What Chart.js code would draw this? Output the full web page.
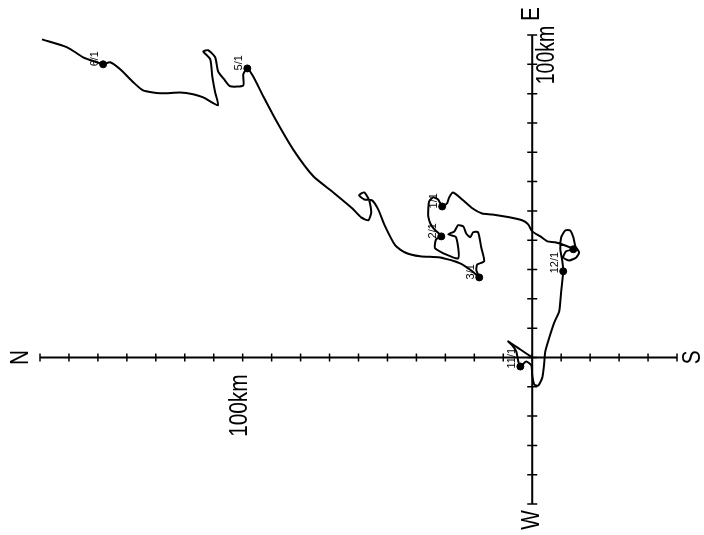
<!DOCTYPE html>
<html>
<head>
<meta charset="utf-8">
<script src="https://cdn.jsdelivr.net/npm/chart.js@4.4.0/dist/chart.umd.min.js"></script>
<style>
  body { margin: 0; background: #fff; }
  canvas { display: block; }
</style>
</head>
<body>
<canvas id="trackChart" width="704" height="535"></canvas>
<script>
// track, km from the release point (north +, east +)
const northKm = [0, 4.1, 8.3, 6.9, 5.5, 4.8, 4.1, 2.1, 0.3, 0, -0.7, -2.1, -3.5, -4.1, -4.5, -5.9, -7.6, -9.3, -9.7, -10.0,
  -10.7, -10.4, -9.7, -10.0, -11.4, -13.1, -14.2, -14.9, -16.2, -15.2, -12.8, -10.7, -11.7, -14.2, -11.4, -7.9, -5.2, -2.8, 0, 1.4,
  3.5, 7.9, 13.8, 17.3, 20.7, 24.2, 27.3, 28.7, 29.4, 31.1, 32.5, 34.2, 35.6, 35.9, 35.9, 35.2, 33.8, 31.4, 33.2, 33.5,
  25.6, 26.3, 29.0, 26.9, 25.6, 23.8, 22.8, 21.4, 20.4, 18.7, 17.6, 16.6, 19.0, 19.3, 18.3, 20.7, 24.9, 31.8, 38.7, 43.9,
  47.3, 50.8, 53.2, 55.3, 58.0, 59.8, 58.0, 56.3, 55.6, 56.6, 59.1, 62.2, 68.7, 75.6, 82.6, 88.1, 92.9, 96.4, 98.4, 99.8,
  99.8, 104.3, 106.5, 108.5, 109.5, 111.9, 113.6, 111.2, 110.5, 109.5, 108.5, 113.6, 117.1, 121.6, 128.5, 134.4, 137.8, 142.3, 145.8, 148.2,
  150.3, 155.1, 160.6, 169.3];
const eastKm = [0, 2.7, 5.5, 4.1, 2.0, -1.4, -3.1, -1.4, -2.7, -6.1, -9.2, -9.6, -6.8, -2.4, 2.0, 6.8, 11.9, 15.7, 19.1, 22.5,
  29.4, 32.8, 36.9, 41.0, 43.3, 43.3, 41.0, 37.9, 35.8, 34.1, 33.1, 34.1, 36.2, 36.9, 38.2, 39.3, 39.6, 41.3, 43.0, 45.4,
  46.8, 47.8, 48.8, 49.1, 50.9, 53.9, 56.3, 54.6, 52.6, 51.5, 53.9, 54.6, 53.2, 50.5, 48.1, 45.7, 43.7, 41.3, 40.3, 37.2,
  33.8, 41.0, 42.0, 43.0, 45.1, 44.7, 42.3, 41.0, 42.7, 42.7, 37.5, 32.8, 31.7, 29.7, 27.3, 29.4, 32.1, 34.1, 34.5, 35.8,
  38.2, 44.7, 50.5, 53.6, 53.9, 55.3, 56.3, 53.6, 49.5, 46.8, 47.8, 50.9, 56.3, 61.8, 71.0, 80.2, 89.1, 95.9, 98.6, 96.6,
  92.8, 92.5, 95.0, 97.6, 102.4, 104.8, 104.4, 101.7, 95.9, 90.4, 86.0, 88.7, 89.8, 90.4, 90.1, 91.1, 93.9, 98.3, 100.7, 100.0,
  100.7, 102.4, 105.8, 108.5];

// dated fixes on the track (index into the arrays above)
const markerIdx = [6, 20, 33, 49, 57, 74, 98, 119];
const markerLabels = ['11/1', '12/1', '', '1/1', '2/1', '3/1', '5/1', '6/1'];

// axis extent and tick step, km
const northRange = [-50, 170];
const eastRange = [-50, 110];
const tickStep = 10;
const scaleLabel = '100km';
const scaleAt = 100;

const track = northKm.map((n, i) => ({ x: n, y: eastKm[i] }));
const markers = markerIdx.map(i => ({ x: northKm[i], y: eastKm[i] }));

function rotText(ctx, txt, x, y, size, align, sx) {
    ctx.save();
    ctx.translate(x, y);
    ctx.rotate(-Math.PI / 2);
    ctx.scale(sx, 1);
    ctx.font = size + 'px "Liberation Sans", Arial, sans-serif';
    ctx.textAlign = align;
    ctx.textBaseline = 'alphabetic';
    ctx.fillStyle = '#000';
    ctx.fillText(txt, 0, 0);
    ctx.restore();
}

// compass axes crossing at the release point, drawn from the chart scales
const compassAxes = {
    id: 'compassAxes',
    beforeDatasetsDraw(chart) {
        const ctx = chart.ctx;
        const xs = chart.scales.x, ys = chart.scales.y;
        const x0 = xs.getPixelForValue(0), y0 = ys.getPixelForValue(0);
        const xl = xs.getPixelForValue(northRange[1]), xr = xs.getPixelForValue(northRange[0]);
        const yt = ys.getPixelForValue(eastRange[1]), yb = ys.getPixelForValue(eastRange[0]);
        ctx.save();
        ctx.strokeStyle = '#000';
        ctx.lineWidth = 2;
        ctx.beginPath();
        ctx.moveTo(xl, y0); ctx.lineTo(xr, y0);
        ctx.moveTo(x0, yt); ctx.lineTo(x0, yb);
        ctx.stroke();
        ctx.lineWidth = 1.5;
        ctx.beginPath();
        for (let v = northRange[0]; v <= northRange[1]; v += tickStep) {
            const p = xs.getPixelForValue(v);
            ctx.moveTo(p, y0 - 4); ctx.lineTo(p, y0 + 4);
        }
        for (let v = eastRange[0]; v <= eastRange[1]; v += tickStep) {
            const p = ys.getPixelForValue(v);
            ctx.moveTo(x0 - 5, p); ctx.lineTo(x0 + 5, p);
        }
        ctx.stroke();
        ctx.restore();

        rotText(ctx, 'N', xl - 12, y0, 26, 'center', 0.8);
        rotText(ctx, 'S', xr + 23, y0, 26, 'center', 0.8);
        rotText(ctx, 'E', x0 + 7, yt - 21, 26, 'center', 0.8);
        rotText(ctx, 'W', x0 + 7, yb + 16, 26, 'center', 0.8);
        rotText(ctx, scaleLabel, xs.getPixelForValue(scaleAt) + 4, y0 + 17, 26, 'right', 0.8);
        rotText(ctx, scaleLabel, x0 + 22, ys.getPixelForValue(scaleAt) + 20, 26, 'left', 0.75);
    },
    afterDatasetsDraw(chart) {
        const ctx = chart.ctx;
        const xs = chart.scales.x, ys = chart.scales.y;
        markers.forEach((m, i) => {
            if (!markerLabels[i]) return;
            rotText(ctx, markerLabels[i], xs.getPixelForValue(m.x) - 5, ys.getPixelForValue(m.y) + 2, 11, 'left', 1);
        });
    }
};

new Chart(document.getElementById('trackChart').getContext('2d'), {
    type: 'scatter',
    data: {
        datasets: [{
            data: track,
            showLine: true,
            borderColor: '#000',
            borderWidth: 2,
            pointRadius: 0,
            tension: 0.2
        }, {
            data: markers,
            pointRadius: 3.5,
            backgroundColor: '#000',
            borderColor: '#000'
        }]
    },
    options: {
        responsive: false,
        animation: false,
        layout: { padding: { left: 40, right: 27, top: 35, bottom: 31 } },
        plugins: { legend: { display: false }, tooltip: { enabled: false } },
        scales: {
            x: { type: 'linear', min: northRange[0], max: northRange[1], reverse: true, display: false },
            y: { type: 'linear', min: eastRange[0], max: eastRange[1], display: false }
        }
    },
    plugins: [compassAxes]
});
</script>
</body>
</html>
